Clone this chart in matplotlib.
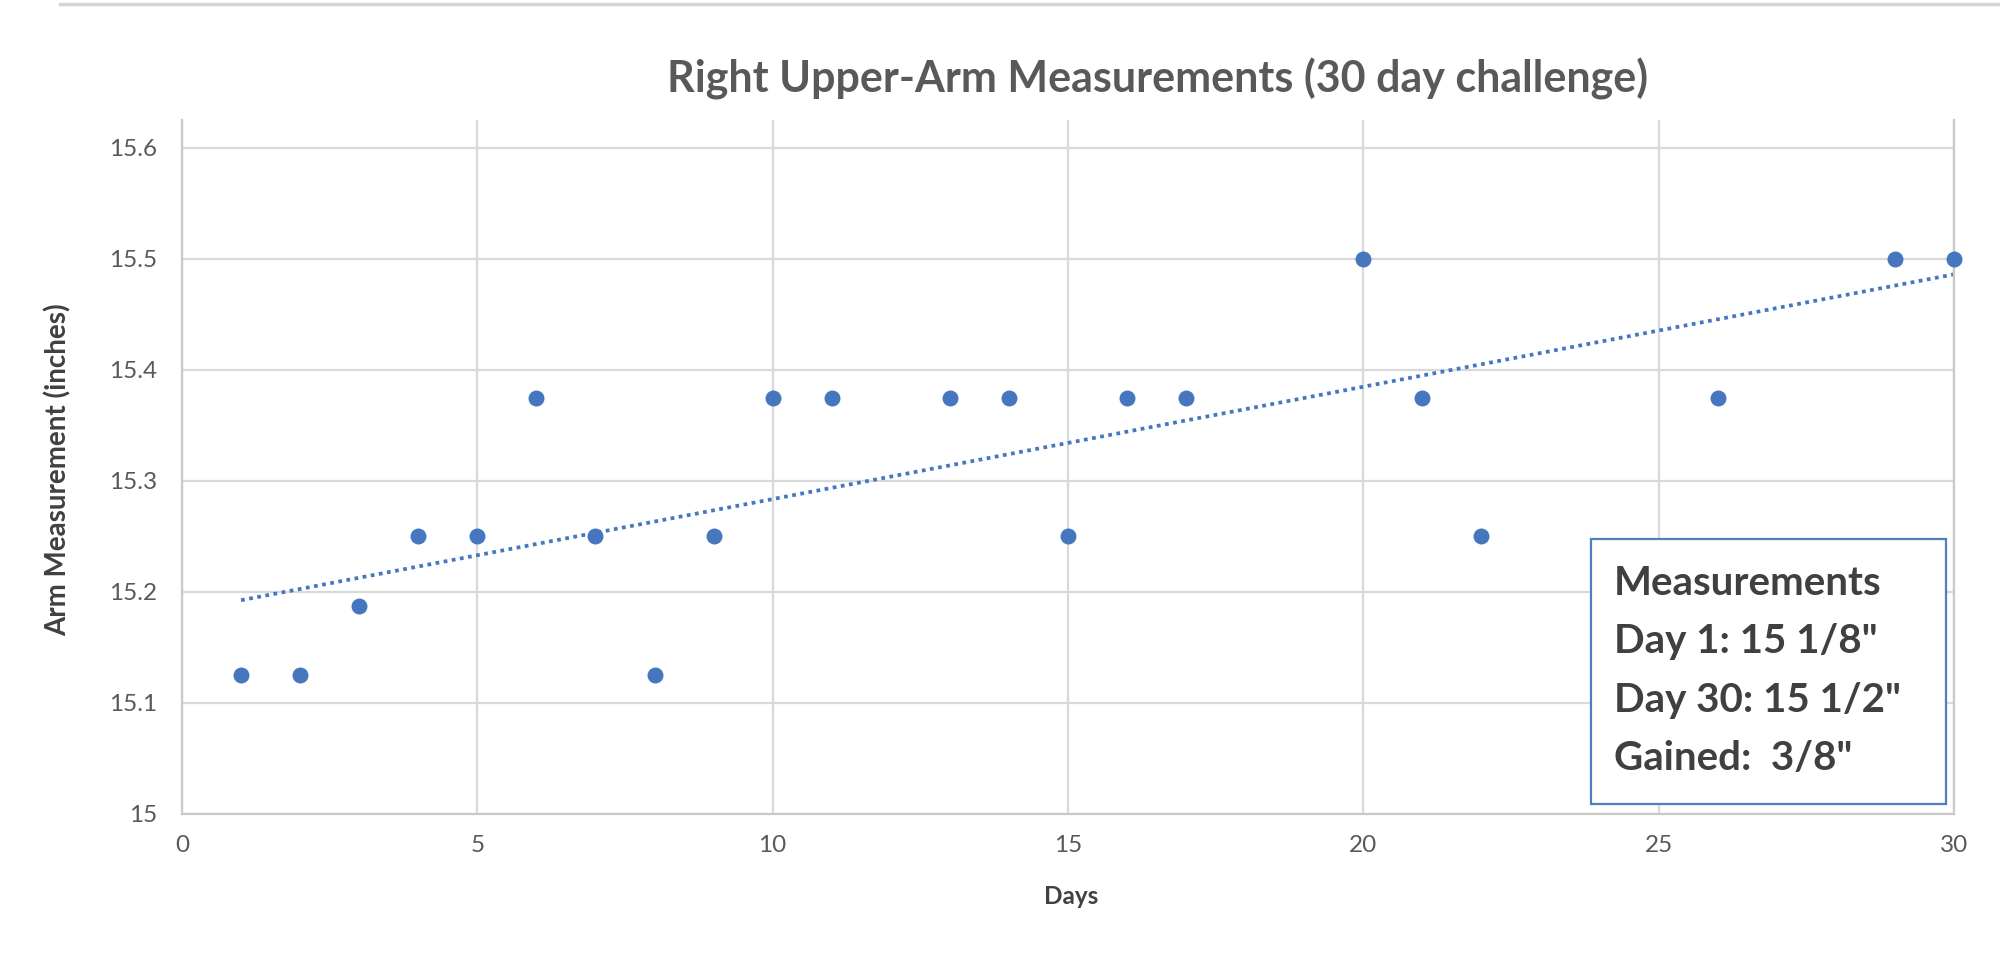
import numpy as np
import matplotlib
matplotlib.use("Agg")
import matplotlib.pyplot as plt
from matplotlib.patches import Rectangle
from matplotlib.lines import Line2D

plt.rcParams['font.family'] = ['Lato', 'DejaVu Sans']

# ---- data ----
days = [1, 2, 3, 4, 5, 6, 7, 8, 9, 10, 11, 13, 14, 15, 16, 17, 20, 21, 22, 26, 29, 30]
measurements = [15.125, 15.125, 15.1875, 15.25, 15.25, 15.375, 15.25, 15.125, 15.25,
                15.375, 15.375, 15.375, 15.375, 15.25, 15.375, 15.375, 15.5, 15.375,
                15.25, 15.375, 15.5, 15.5]
x_ticks = [0, 5, 10, 15, 20, 25, 30]
y_ticks = [15.0, 15.1, 15.2, 15.3, 15.4, 15.5, 15.6]
y_tick_labels = ["15", "15.1", "15.2", "15.3", "15.4", "15.5", "15.6"]
title = "Right Upper-Arm Measurements (30 day challenge)"
x_label = "Days"
y_label = "Arm Measurement (inches)"
box_lines = ["Measurements", "Day 1: 15 1/8\"", "Day 30: 15 1/2\"", "Gained:  3/8\""]

BLUE = "#4677BE"
GRID = "#d9d9d9"
TXT = "#595959"
DARK = "#404040"

W, H = 2000, 975
fig = plt.figure(figsize=(W / 100, H / 100), dpi=100)

def fx(px):
    return px / W

def fy(py):
    return 1 - py / H

ax_left, ax_right, ax_top, ax_bottom = 182, 1954, 120, 814
ax = fig.add_axes([fx(ax_left), fy(ax_bottom), fx(ax_right - ax_left), (ax_bottom - ax_top) / H])

ax.set_xlim(0, 30)
ax.set_ylim(15.0, 15.625)
ax.set_xticks(x_ticks)
ax.set_yticks(y_ticks)
ax.set_yticklabels(y_tick_labels)
ax.grid(True, color=GRID, linewidth=1.6, zorder=0)
ax.set_axisbelow(True)
ax.spines['top'].set_visible(False)
for s in ['left', 'bottom', 'right']:
    ax.spines[s].set_color("#c9c9c9")
    ax.spines[s].set_linewidth(1.6)
ax.tick_params(axis='both', length=0, labelsize=17.5, labelcolor=TXT)
ax.tick_params(axis='y', pad=18)
ax.tick_params(axis='x', pad=15)

# trendline (linear fit of the data)
coef = np.polyfit(days, measurements, 1)
tx = np.array([min(days), max(days)])
ax.plot(tx, np.polyval(coef, tx), color=BLUE, linewidth=2.7,
        linestyle=(0, (1, 1.2)), zorder=2)

ax.plot(days, measurements, linestyle='none', marker='o', markersize=11.5,
        color=BLUE, markeredgewidth=0, zorder=3, clip_on=False)

fig.text(fx(1158), fy(79), title, ha='center', va='center', fontsize=31,
         fontweight='bold', color=TXT)
fig.text(fx(58), fy(470), y_label, rotation=90, ha='center', va='center',
         fontsize=20, fontweight='bold', color=DARK)
fig.text(fx(1071), fy(897), x_label, ha='center', va='center',
         fontsize=17.5, fontweight='bold', color=DARK)

# annotation box
bx0, bx1, by0, by1 = 1591, 1946, 539, 804
fig.add_artist(Rectangle((fx(bx0), fy(by1)), fx(bx1 - bx0), (by1 - by0) / H,
                         transform=fig.transFigure, facecolor='white',
                         edgecolor="#4F7FC0", linewidth=1.6, zorder=5))
baselines = [595, 653, 712, 770]
for line, b in zip(box_lines, baselines):
    fig.text(fx(1614), fy(b), line, ha='left', va='baseline', fontsize=29,
             fontweight='bold', color=DARK, zorder=6)

# top screenshot border
fig.add_artist(Line2D([fx(60), 1.0], [fy(4), fy(4)], transform=fig.transFigure,
                      color="#d4d4d4", linewidth=2.5))

fig.savefig("out.png", dpi=100, facecolor='white')
